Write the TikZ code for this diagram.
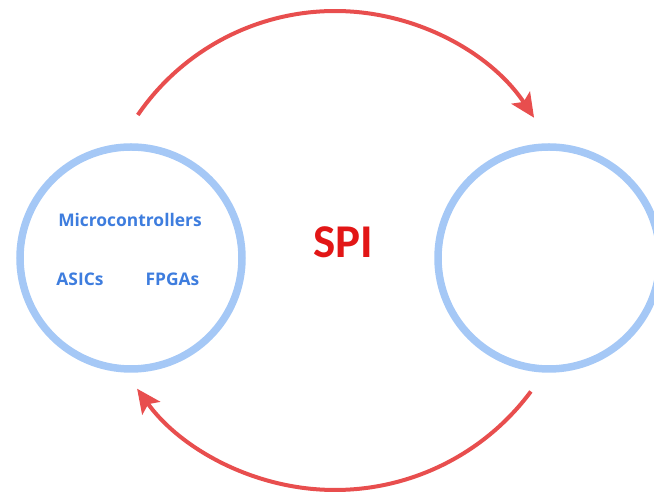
\documentclass[tikz,border=0pt]{standalone}
\usepackage{fontspec}
\setmainfont{Open Sans}
\newfontfamily\spifont{Carlito}
\usetikzlibrary{arrows.meta}
\definecolor{ringblue}{RGB}{165,200,246}
\definecolor{txtblue}{RGB}{62,125,222}
\definecolor{arcred}{RGB}{232,78,78}
\definecolor{spired}{RGB}{226,22,22}
\tikzset{
  ring/.style={circle, draw=ringblue, line width=7.5pt, minimum size=222pt, inner sep=0pt},
  lbl/.style={text=txtblue, font=\fontsize{17.4pt}{19pt}\selectfont\bfseries, anchor=base, inner sep=0pt},
  flow/.style={draw=arcred, line width=4pt, -{Stealth[length=24pt,width=22pt,inset=5pt]}}
}
\begin{document}
\begin{tikzpicture}[x=1pt,y=1pt]
\useasboundingbox (0,0) rectangle (654,494);
\clip (0,0) rectangle (654,494);
\node[ring] (left) at (131,236) {};
\node[ring] (right) at (549,236) {};
\node[lbl] (mc) at (130,267) {Microcontrollers};
\node[lbl] (asics) at (80,208) {ASICs};
\node[lbl] (fpgas) at (172.5,208) {FPGAs};
\node[text=spired, font=\fontsize{47pt}{50pt}\spifont\bfseries, anchor=base, inner sep=0pt] (spi) at (343.5,236) {SPI};
\coordinate (tstart) at ({335+239*cos(145.6)},{244+239*sin(145.6)});
\coordinate (bstart) at ({335+244*cos(-36.6)},{248+244*sin(-36.6)});
\draw[flow] (tstart) arc[start angle=145.6, end angle=33.6, radius=239];
\draw[flow] (bstart) arc[start angle=-36.6, end angle=-144.2, radius=244];
\end{tikzpicture}
\end{document}
